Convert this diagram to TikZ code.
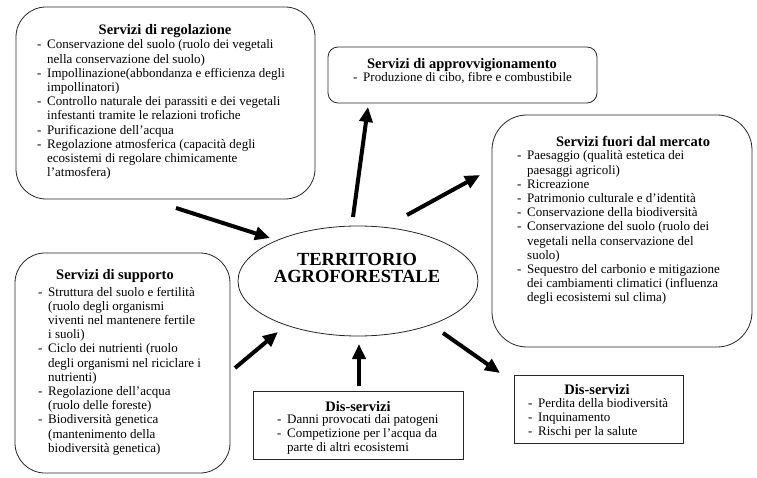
\documentclass[tikz,border=0pt]{standalone}
\usepackage{fontspec}
\setmainfont{Liberation Serif}
\usetikzlibrary{arrows.meta,shapes.geometric}
\newcommand{\dd}{\makebox[10pt][l]{-}}
\newcommand{\lst}[1]{\begin{tabular}[t]{@{}l@{}l@{}}#1\end{tabular}}
\begin{document}
\begin{tikzpicture}[x=1pt,y=-1pt,
  rbox/.style={draw=black!85, line width=0.8pt, rounded corners=#1, inner sep=0pt},
  rbox/.default=30pt,
  sbox/.style={draw=black!85, line width=0.8pt, inner sep=0pt},
  body/.style={font=\fontsize{13}{14.2}\selectfont, inner sep=0pt, anchor=base west},
  ttl/.style={font=\fontsize{14.5}{16}\selectfont\bfseries, inner sep=0pt, anchor=base},
  arr/.style={line width=4pt, -{Triangle[length=15pt,width=13pt]}}]
\useasboundingbox (0,0) rectangle (757,478);

% boxes
\node[rbox=30pt, minimum width=299pt, minimum height=192pt] (reg) at (165.5,103) {};
\node[rbox=10pt, minimum width=269pt, minimum height=56pt] (appr) at (462.5,75) {};
\node[rbox=35pt, minimum width=260pt, minimum height=232pt] (fuori) at (622,231) {};
\node[rbox=30pt, minimum width=215pt, minimum height=220pt] (supp) at (122.5,363) {};
\node[sbox, minimum width=210pt, minimum height=68pt] (dis1) at (358,425) {};
\node[sbox, minimum width=169pt, minimum height=68pt] (dis2) at (598.5,409) {};
\node[draw=black!85, line width=0.8pt, ellipse, inner sep=0pt, minimum width=240pt, minimum height=110pt] (ell) at (358,281) {};

% ellipse text
\node[font=\fontsize{18.5}{17.5}\selectfont\bfseries, align=center, inner sep=0pt, anchor=base] (ellt) at (357,283) {TERRITORIO\\AGROFORESTALE};

% top-left
\node[ttl] (regt) at (165,35) {Servizi di regolazione};
\node[body] (regl) at (37,49) {\lst{\dd & Conservazione del suolo (ruolo dei vegetali\\
 & nella conservazione del suolo)\\
\dd & Impollinazione(abbondanza e efficienza degli\\
 & impollinatori)\\
\dd & Controllo naturale dei parassiti e dei vegetali\\
 & infestanti tramite le relazioni trofiche\\
\dd & Purificazione dell'acqua\\
\dd & Regolazione atmosferica (capacità degli\\
 & ecosistemi di regolare chimicamente\\
 & l'atmosfera)}};

% top-middle
\node[ttl] (apprt) at (462,69) {Servizi di approvvigionamento};
\node[body] (apprl) at (353,82) {\lst{\dd & Produzione di cibo, fibre e combustibile}};

% right
\node[ttl] (fuorit) at (633,147) {Servizi fuori dal mercato};
\node[body] (fuoril) at (517,160) {\lst{\dd & Paesaggio (qualità estetica dei\\
 & paesaggi agricoli)\\
\dd & Ricreazione\\
\dd & Patrimonio culturale e d'identità\\
\dd & Conservazione della biodiversità\\
\dd & Conservazione del suolo (ruolo dei\\
 & vegetali nella conservazione del\\
 & suolo)\\
\dd & Sequestro del carbonio e mitigazione\\
 & dei cambiamenti climatici (influenza\\
 & degli ecosistemi sul clima)}};

% bottom-left
\node[ttl] (suppt) at (115,279) {Servizi di supporto};
\node[body] (suppl) at (38,296) {\lst{\dd & Struttura del suolo e fertilità\\
 & (ruolo degli organismi\\
 & viventi nel mantenere fertile\\
 & i suoli)\\
\dd & Ciclo dei nutrienti (ruolo\\
 & degli organismi nel riciclare i\\
 & nutrienti)\\
\dd & Regolazione dell'acqua\\
 & (ruolo delle foreste)\\
\dd & Biodiversità genetica\\
 & (mantenimento della\\
 & biodiversità genetica)}};

% bottom-middle
\node[ttl] (dis1t) at (358,411) {Dis-servizi};
\node[body] (dis1l) at (277,423) {\lst{\dd & Danni provocati dai patogeni\\
\dd & Competizione per l'acqua da\\
 & parte di altri ecosistemi}};

% bottom-right
\node[ttl] (dis2t) at (597,394) {Dis-servizi};
\node[body] (dis2l) at (528,407) {\lst{\dd & Perdita della biodiversità\\
\dd & Inquinamento\\
\dd & Rischi per la salute}};

% arrow end points
\coordinate (a1s) at (176,208); \coordinate (a1e) at (270,238);
\coordinate (a2s) at (353,217); \coordinate (a2e) at (368,107);
\coordinate (a3s) at (407,215); \coordinate (a3e) at (480,175);
\coordinate (a4s) at (235,368); \coordinate (a4e) at (278,332);
\coordinate (a5s) at (359,386); \coordinate (a5e) at (359,344);
\coordinate (a6s) at (443,333); \coordinate (a6e) at (500,373);

\draw[arr] (a1s) -- (a1e);
\draw[arr] (a2s) -- (a2e);
\draw[arr] (a3s) -- (a3e);
\draw[arr] (a4s) -- (a4e);
\draw[arr] (a5s) -- (a5e);
\draw[arr] (a6s) -- (a6e);
\end{tikzpicture}
\end{document}
